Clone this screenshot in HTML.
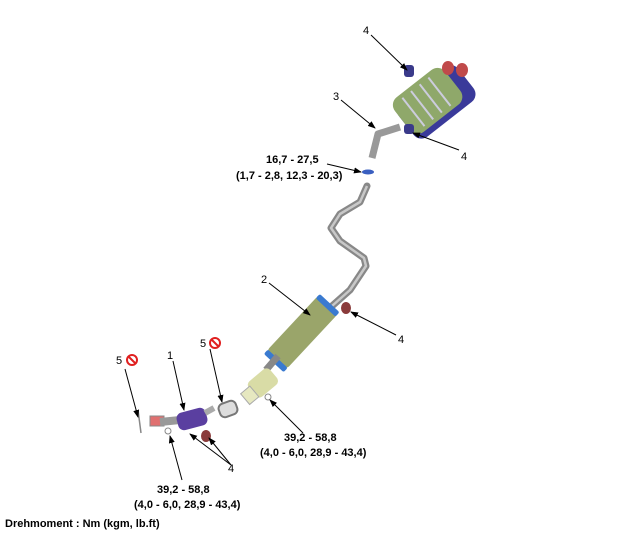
<!DOCTYPE html>
<html><head><meta charset="utf-8"><style>
html,body{margin:0;padding:0;background:#fff;width:623px;height:536px;overflow:hidden}
svg text{font-family:"Liberation Sans",Arial,sans-serif}
</style></head><body>
<svg width="623" height="536" viewBox="0 0 623 536" xmlns="http://www.w3.org/2000/svg">
<defs>
<marker id="a" markerWidth="8" markerHeight="8" refX="7" refY="4" orient="auto" markerUnits="userSpaceOnUse"><path d="M0,1 L8,4 L0,7 Z" fill="#000"/></marker>
</defs>
<!-- mid pipe -->
<path d="M367,186 L360,202 L340,214 L331,228 L340,241 L364,258 L366,266 L350,290 L332,306" fill="none" stroke="#888" stroke-width="7" stroke-linejoin="round" stroke-linecap="round"/>
<path d="M367,186 L360,202 L340,214 L331,228 L340,241 L364,258 L366,266 L350,290 L332,306" fill="none" stroke="#c8c8c8" stroke-width="2.5" stroke-linejoin="round"/>
<ellipse cx="368" cy="172" rx="6" ry="2.5" fill="#3a5fc0"/>
<!-- rear pipe to muffler -->
<path d="M372,158 L378,134 L400,127" fill="none" stroke="#999" stroke-width="7" stroke-linejoin="round"/>
<!-- muffler -->
<g transform="rotate(-38 432 100)">
<rect x="396" y="82" width="76" height="44" rx="10" fill="#3a3a9a"/>
<rect x="396" y="76" width="64" height="44" rx="10" fill="#8fa86a"/>
<line x1="410" y1="80" x2="410" y2="116" stroke="#ccd" stroke-width="2"/>
<line x1="421" y1="80" x2="421" y2="116" stroke="#ccd" stroke-width="2"/>
<line x1="432" y1="80" x2="432" y2="116" stroke="#ccd" stroke-width="2"/>
<line x1="443" y1="80" x2="443" y2="116" stroke="#ccd" stroke-width="2"/>
</g>
<ellipse cx="448" cy="68" rx="6" ry="7" fill="#c04a4a"/>
<ellipse cx="462" cy="70" rx="6" ry="7" fill="#c04a4a"/>
<rect x="404" y="65" width="10" height="12" rx="3" fill="#3a3a8a"/>
<rect x="404" y="124" width="10" height="10" rx="3" fill="#3a3a8a"/>
<!-- resonator -->
<path d="M332,306 L320,318" stroke="#888" stroke-width="7"/>
<g transform="rotate(-47 302 332)">
<rect x="264" y="319" width="76" height="27" rx="4" fill="#9aa56a"/>
<rect x="260" y="319" width="6" height="27" rx="2" fill="#3a7ad0"/>
<rect x="336" y="319" width="6" height="27" rx="2" fill="#3a7ad0"/>
</g>
<ellipse cx="346" cy="308" rx="5" ry="6" fill="#8a3a3a"/>
<path d="M278,356 L266,370" stroke="#888" stroke-width="7"/>
<!-- cat -->
<g transform="rotate(-40 262 385)">
<rect x="250" y="374" width="28" height="20" rx="5" fill="#d9dca6"/>
<rect x="240" y="378" width="12" height="14" fill="#e6e8c0" stroke="#aaa" stroke-width="1"/>
</g>
<circle cx="268" cy="397" r="3" fill="none" stroke="#888"/>
<!-- gasket -->
<rect x="219" y="402" width="18" height="14" rx="5" fill="#ddd" stroke="#777" stroke-width="2" transform="rotate(-20 228 409)"/>
<!-- front pipe -->
<rect x="150" y="416" width="14" height="10" fill="#e07070" stroke="#888"/>
<path d="M160,422 L180,420" stroke="#999" stroke-width="8"/>
<rect x="177" y="410" width="30" height="18" rx="6" fill="#5a3fa0" transform="rotate(-15 192 419)"/>
<path d="M205,413 L214,408" stroke="#aaa" stroke-width="6"/>
<ellipse cx="206" cy="436" rx="5" ry="6" fill="#8a3a3a"/>
<circle cx="168" cy="431" r="3" fill="none" stroke="#888"/>
<line x1="138" y1="410" x2="141" y2="433" stroke="#888" stroke-width="1.5"/>
<!-- leaders -->
<g stroke="#000" stroke-width="1" fill="none" marker-end="url(#a)">
<line x1="371" y1="35" x2="407" y2="70"/>
<line x1="341" y1="100" x2="375" y2="128"/>
<line x1="459" y1="150" x2="413" y2="133"/>
<line x1="327" y1="164" x2="361" y2="172"/>
<line x1="269" y1="283" x2="310" y2="315"/>
<line x1="396" y1="335" x2="351" y2="312"/>
<line x1="303" y1="433" x2="270" y2="400"/>
<line x1="210" y1="349" x2="222" y2="402"/>
<line x1="173" y1="361" x2="184" y2="410"/>
<line x1="125" y1="369" x2="138" y2="417"/>
<line x1="231" y1="465" x2="190" y2="434"/>
<line x1="231" y1="465" x2="209" y2="438"/>
<line x1="182" y1="480" x2="170" y2="436"/>
</g>
<!-- no symbols -->
<g fill="none" stroke="#e02020" stroke-width="2">
<circle cx="215" cy="343" r="5"/><line x1="211.5" y1="339.5" x2="218.5" y2="346.5"/>
<circle cx="132" cy="360" r="5"/><line x1="128.5" y1="356.5" x2="135.5" y2="363.5"/>
</g>
<!-- text -->
<g font-size="11" fill="#000">
<text x="363" y="34">4</text>
<text x="333" y="100">3</text>
<text x="461" y="160">4</text>
<text x="261" y="283">2</text>
<text x="398" y="343">4</text>
<text x="200" y="347">5</text>
<text x="167" y="359">1</text>
<text x="116" y="364">5</text>
<text x="228" y="472">4</text>
</g>
<g font-size="11" font-weight="bold" fill="#000">
<text x="266" y="163">16,7 - 27,5</text>
<text x="236" y="179">(1,7 - 2,8, 12,3 - 20,3)</text>
<text x="284" y="441">39,2 - 58,8</text>
<text x="260" y="456">(4,0 - 6,0, 28,9 - 43,4)</text>
<text x="157" y="493">39,2 - 58,8</text>
<text x="134" y="508">(4,0 - 6,0, 28,9 - 43,4)</text>
<text x="5" y="527">Drehmoment : Nm (kgm, lb.ft)</text>
</g>
</svg>
</body></html>
